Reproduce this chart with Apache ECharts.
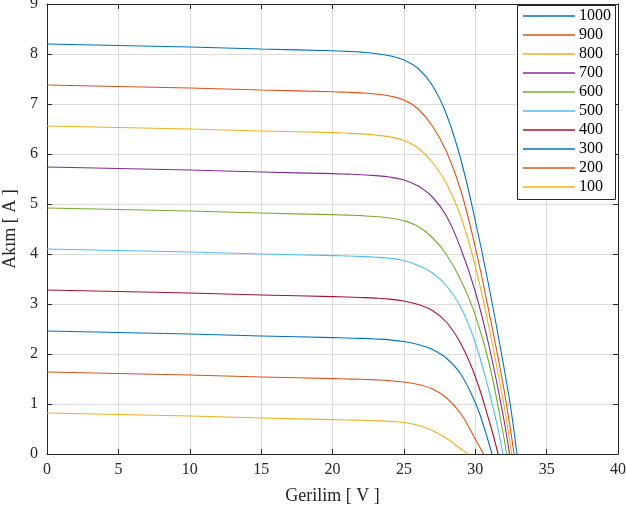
<!DOCTYPE html>
<html>
<head>
<meta charset="UTF-8">
<title>I-V</title>
<script src="https://cdn.jsdelivr.net/npm/echarts@6/dist/echarts.min.js"></script>
<style>
  html, body { margin: 0; padding: 0; background: #fff; }
  #chart { width: 626px; height: 513px; }
</style>
</head>
<body>
<div id="chart"></div>
<script>
// isinim seviyeleri (W/m2) ve okunan I-V noktalari [V, A]
var levels = ['1000', '900', '800', '700', '600', '500', '400', '300', '200', '100'];
var colors = ['#0072BD', '#D95319', '#EDB120', '#7E2F8E', '#77AC30', '#4DBEEE', '#A2142F', '#0072BD', '#D95319', '#EDB120'];

var iv1000 = [[0,8.20],[5,8.17],[10,8.14],[15,8.10],[20,8.065],[21,8.053],[22,8.037],[23,8.01],[24,7.964],[25,7.88],[26,7.71],[27,7.37],[28,6.78],[29,5.88],[30,4.67],[31,3.29],[32,1.75],[32.5,0.90],[32.92,0]];
var iv900  = [[0,7.38],[5,7.35],[10,7.32],[15,7.28],[20,7.246],[21,7.235],[22,7.222],[23,7.20],[24,7.159],[25,7.08],[26,6.90],[27,6.56],[28,6.04],[29,5.26],[30,4.14],[31,2.79],[32,1.31],[32.72,0]];
var iv800  = [[0,6.56],[5,6.53],[10,6.50],[15,6.46],[20,6.427],[21,6.416],[22,6.403],[23,6.38],[24,6.344],[25,6.27],[26,6.12],[27,5.83],[28,5.40],[29,4.74],[30,3.76],[31,2.48],[32,1.00],[32.55,0]];
var iv700  = [[0,5.74],[5,5.71],[10,5.68],[15,5.64],[20,5.607],[21,5.597],[22,5.586],[23,5.568],[24,5.539],[25,5.48],[26,5.36],[27,5.14],[28,4.75],[29,4.10],[30,3.25],[31,2.12],[32,0.70],[32.4,0]];
var iv600  = [[0,4.92],[5,4.89],[10,4.86],[15,4.82],[20,4.787],[21,4.777],[22,4.767],[23,4.75],[24,4.721],[25,4.665],[26,4.55],[27,4.33],[28,3.98],[29,3.47],[30,2.78],[31,1.78],[32,0.34],[32.2,0]];
var iv500  = [[0,4.10],[5,4.07],[10,4.04],[15,4.00],[20,3.968],[21,3.96],[22,3.95],[23,3.936],[24,3.914],[25,3.87],[26,3.77],[27,3.62],[28,3.36],[29,2.93],[30,2.23],[31,1.22],[31.5,0.62],[31.95,0]];
var iv400  = [[0,3.28],[5,3.25],[10,3.22],[15,3.18],[20,3.148],[21,3.14],[22,3.13],[23,3.117],[24,3.097],[25,3.06],[26,2.99],[27,2.87],[28,2.63],[29,2.20],[30,1.55],[31,0.64],[31.6,0]];
var iv300  = [[0,2.46],[5,2.43],[10,2.40],[15,2.36],[20,2.328],[21,2.32],[22,2.312],[23,2.30],[24,2.282],[25,2.25],[26,2.19],[27,2.09],[28,1.91],[29,1.59],[30,1.03],[30.6,0.55],[31.17,0]];
var iv200  = [[0,1.64],[5,1.61],[10,1.58],[15,1.54],[20,1.508],[21,1.50],[22,1.494],[23,1.483],[24,1.468],[25,1.44],[26,1.39],[27,1.30],[28,1.12],[29,0.80],[30,0.30],[30.58,0]];
var iv100  = [[0,0.82],[5,0.79],[10,0.76],[15,0.72],[20,0.688],[21,0.681],[22,0.675],[23,0.665],[24,0.653],[25,0.63],[26,0.575],[27,0.47],[28,0.31],[29,0.10],[29.48,0]];
var curves = [iv1000, iv900, iv800, iv700, iv600, iv500, iv400, iv300, iv200, iv100];

var xTicks = { min: 0, max: 40, interval: 5 };
var yTicks = { min: 0, max: 9, interval: 1 };

var chart = echarts.init(document.getElementById('chart'));
var font = 'Liberation Serif';
var axisCol = '#262626';

function axisBase(show) {
    return {
        type: 'value',
        axisLine: { show: true, onZero: false, lineStyle: { color: axisCol, width: 1 } },
        axisTick: { show: true, inside: true, length: 5, lineStyle: { color: axisCol } },
        axisLabel: { show: show, color: axisCol, fontFamily: font, fontSize: 16 },
        splitLine: { show: show, lineStyle: { color: '#dcdcdc', width: 1 } }
    };
}

var xMain = axisBase(true);
Object.assign(xMain, xTicks, { position: 'bottom', name: 'Gerilim [ V ]', nameLocation: 'middle', nameGap: 33,
    nameTextStyle: { color: axisCol, fontFamily: font, fontSize: 18 } });
xMain.axisLabel.margin = 8;
var xTop = axisBase(false);
Object.assign(xTop, xTicks, { position: 'top' });

var yMain = axisBase(true);
Object.assign(yMain, yTicks, { position: 'left', name: 'Akım [ A ]', nameLocation: 'middle', nameGap: 20,
    nameTextStyle: { color: axisCol, fontFamily: font, fontSize: 18 } });
yMain.axisLabel.margin = 9;
var yRight = axisBase(false);
Object.assign(yRight, yTicks, { position: 'right' });

var series = [];
for (var i = 0; i < curves.length; i++) {
    series.push({
        name: levels[i],
        type: 'line',
        data: curves[i],
        showSymbol: false,
        smooth: 0.4,
        clip: true,
        lineStyle: { color: colors[i], width: 1.1 },
        itemStyle: { color: colors[i] }
    });
}

var option = {
    animation: false,
    backgroundColor: '#fff',
    textStyle: { fontFamily: font },
    grid: { left: 47, right: 8, top: 4, bottom: 59, outerBoundsMode: 'none', containLabel: false },
    xAxis: [xMain, xTop],
    yAxis: [yMain, yRight],
    legend: {
        orient: 'vertical',
        left: 523,
        top: 8,
        padding: 0,
        icon: 'rect',
        itemWidth: 52,
        itemHeight: 1.3,
        itemGap: 3,
        textStyle: { color: '#000', fontFamily: font, fontSize: 16, padding: [0, 0, 0, -1] },
        data: levels
    },
    graphic: [{
        type: 'rect',
        shape: { x: 517.5, y: 5.5, width: 98, height: 194 },
        style: { fill: '#fff', stroke: axisCol, lineWidth: 1 },
        z: 50
    }],
    series: series
};
option.legend.z = 60;
chart.setOption(option);
</script>
</body>
</html>
